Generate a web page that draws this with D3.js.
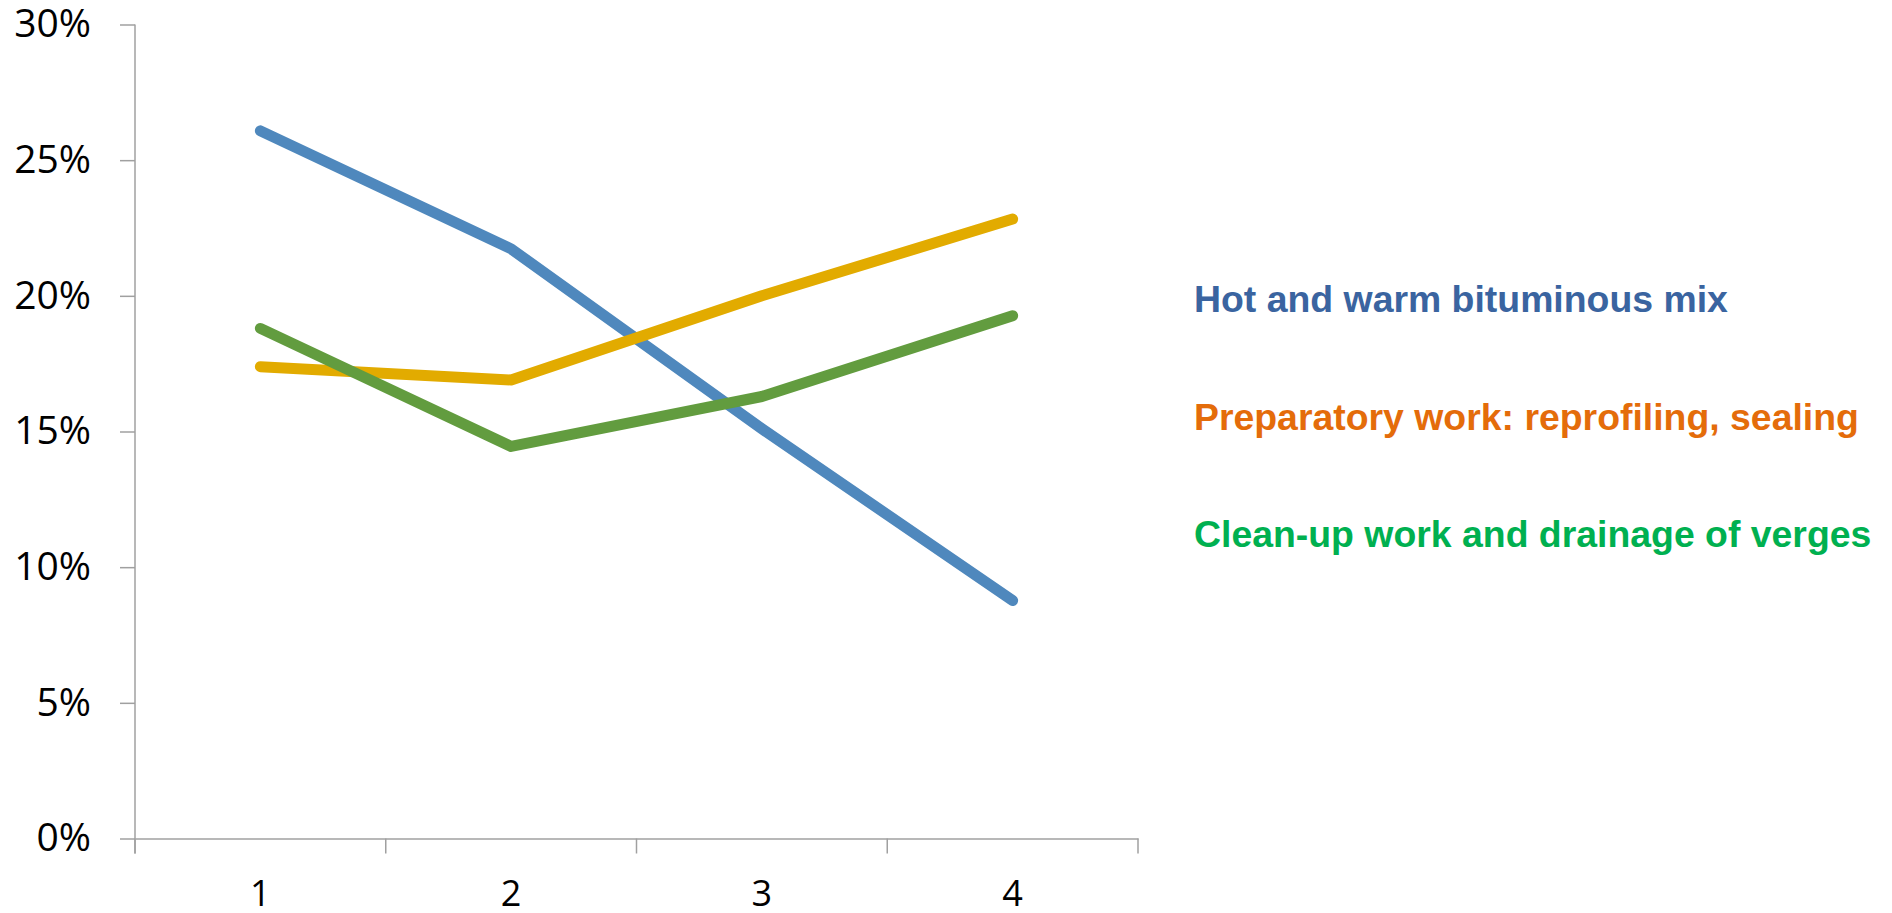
<!DOCTYPE html>
<html>
<head>
<meta charset="utf-8">
<script src="https://cdn.jsdelivr.net/npm/d3@7"></script>
<style>
  html, body { margin: 0; padding: 0; background: #ffffff; }
  svg { display: block; }
</style>
</head>
<body>
<svg id="chart" width="1892" height="913"></svg>
<script>
// Periods on the horizontal axis
const categories = ["1", "2", "3", "4"];

// Share of each work type per period
const seriesNames = [
  "Hot and warm bituminous mix",
  "Preparatory work: reprofiling, sealing",
  "Clean-up work and drainage of verges"
];
const hotMix      = [0.2608, 0.2173, 0.1510, 0.0877];
const preparatory = [0.1739, 0.1690, 0.2000, 0.2283];
const cleanUp     = [0.1880, 0.1445, 0.1629, 0.1927];

// Vertical axis ticks
const yTicks = [0, 0.05, 0.10, 0.15, 0.20, 0.25, 0.30];

const lineColors  = ["#4f88bd", "#e2ab00", "#629c3f"];
const labelColors = ["#3a64a0", "#e46c0a", "#00b050"];

const svg = d3.select("#chart");

const x = d3.scaleBand().domain(categories).range([135, 1138]).padding(0);
const y = d3.scaleLinear().domain([0, 0.30]).range([838.5, 24.5]);

const axisColor = "#a0a0a0";

// Y axis
const yAxis = svg.append("g")
  .attr("transform", "translate(135,0)")
  .call(d3.axisLeft(y).tickValues(yTicks).tickFormat(d3.format(".0%")).tickSize(15).tickPadding(29));
yAxis.select(".domain").attr("stroke", axisColor).attr("stroke-width", 1.5).attr("d", `M0,${y(0.30)}V${y(0) + 15}`);
yAxis.selectAll(".tick line").attr("stroke", axisColor).attr("stroke-width", 1.5);
yAxis.selectAll(".tick text")
  .attr("fill", "#000")
  .style("font-family", "'Open Sans', sans-serif")
  .style("font-size", "39px");

// X axis with labels centred in each band
const xAxis = svg.append("g")
  .attr("transform", `translate(0,${y(0)})`)
  .call(d3.axisBottom(x).tickSize(0));
xAxis.select(".domain").attr("stroke", axisColor).attr("stroke-width", 1.5);
xAxis.selectAll(".tick text")
  .attr("y", 55)
  .attr("dy", "0.35em")
  .attr("fill", "#000")
  .style("font-family", "'Open Sans', sans-serif")
  .style("font-size", "36px");

// Separator ticks on band boundaries
const boundaries = categories.map(c => x(c)).concat([x.range()[1]]);
xAxis.selectAll(".sep")
  .data(boundaries)
  .enter().append("line")
  .attr("class", "sep")
  .attr("x1", d => d).attr("x2", d => d)
  .attr("y1", 0).attr("y2", 15)
  .attr("stroke", axisColor).attr("stroke-width", 1.5);

// Lines
const seriesData = [hotMix, preparatory, cleanUp];
const line = d3.line()
  .x((d, i) => x(categories[i]) + x.bandwidth() / 2)
  .y(d => y(d));

svg.append("g").selectAll("path")
  .data(seriesData)
  .enter().append("path")
  .attr("d", d => line(d))
  .attr("fill", "none")
  .attr("stroke", (d, i) => lineColors[i])
  .attr("stroke-width", 11)
  .attr("stroke-linecap", "round")
  .attr("stroke-linejoin", "round");

// Legend labels
const legendBaselines = [311.5, 430, 547];
svg.append("g").selectAll("text")
  .data(seriesNames)
  .enter().append("text")
  .attr("x", 1194)
  .attr("y", (d, i) => legendBaselines[i])
  .attr("fill", (d, i) => labelColors[i])
  .style("font-family", "'Liberation Sans', Arial, sans-serif")
  .style("font-weight", "bold")
  .style("font-size", "37.4px")
  .text(d => d);
</script>
</body>
</html>
